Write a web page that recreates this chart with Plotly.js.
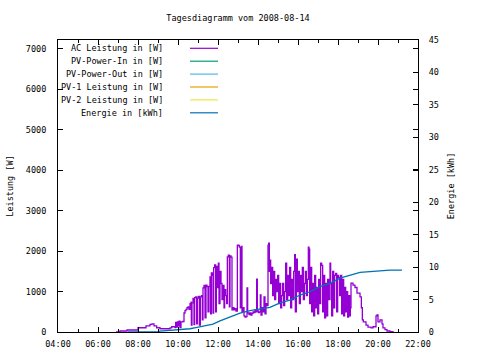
<!DOCTYPE html>
<html>
<head>
<meta charset="utf-8">
<script src="https://cdn.plot.ly/plotly-3.0.1.min.js"></script>
<style>html,body{margin:0;padding:0;background:#fff;}#chart{width:480px;height:360px;}</style>
</head>
<body>
<div id="chart"></div>
<script>
var day = "2008-08-14";
var titleText = "Tagesdiagramm vom 2008-08-14";
var seriesNames = ["AC Leistung in [W]", "PV-Power-In in [W]", "PV-Power-Out in [W]", "PV-1 Leistung in [W]", "PV-2 Leistung in [W]", "Energie in [kWh]"];
var seriesColors = ["#9400d3", "#009e73", "#56b4e9", "#e69f00", "#f0e442", "#0072b2"];

var acTime = ["06:54","07:06","07:27","08:00","08:24","08:36","08:42","08:48","08:56","09:06","09:36","09:41","09:51","09:53","09:55","09:58","10:00","10:03","10:06","10:09","10:14","10:18","10:21","10:24","10:27","10:30","10:33","10:36","10:39","10:40","10:42","10:45","10:48","10:50","10:53","10:56","10:58","11:01","11:04","11:07","11:10","11:13","11:15","11:18","11:21","11:24","11:27","11:30","11:33","11:36","11:38","11:40","11:43","11:45","11:47","11:50","11:53","11:55","11:58","12:01","12:03","12:06","12:09","12:12","12:15","12:18","12:20","12:23","12:26","12:28","12:31","12:34","12:36","12:39","12:42","12:45","12:48","12:51","12:54","12:58","13:01","13:04","13:07","13:10","13:12","13:15","13:18","13:21","13:24","13:27","13:29","13:33","13:36","13:39","13:42","13:45","13:48","13:51","13:54","13:56","13:58","14:01","14:04","14:07","14:09","14:12","14:15","14:18","14:21","14:24","14:27","14:30","14:32","14:34","14:36","14:38","14:41","14:44","14:47","14:50","14:53","14:56","14:59","15:02","15:05","15:08","15:11","15:14","15:17","15:20","15:23","15:26","15:29","15:32","15:35","15:38","15:41","15:44","15:47","15:50","15:52","15:55","15:58","16:01","16:04","16:07","16:10","16:13","16:16","16:19","16:22","16:25","16:28","16:31","16:33","16:35","16:38","16:41","16:44","16:47","16:50","16:53","16:56","16:59","17:02","17:05","17:08","17:11","17:14","17:17","17:20","17:23","17:26","17:29","17:32","17:36","17:38","17:41","17:44","17:47","17:50","17:53","17:56","17:59","18:02","18:05","18:08","18:11","18:14","18:17","18:20","18:23","18:26","18:29","18:32","18:35","18:37","18:39","18:45","18:51","18:57","19:06","19:10","19:13","19:16","19:24","19:30","19:39","19:45","19:54","19:57","20:00","20:06","20:12","20:15","20:21","20:27","20:36","20:45"];
var acPower = [0,25,50,105,150,190,200,150,105,80,100,130,110,240,120,250,150,270,110,250,260,470,530,560,600,620,560,700,740,170,720,830,180,850,870,200,840,880,170,870,900,300,1090,1150,350,1160,1120,500,1130,1360,450,1460,1400,470,1590,1660,500,1620,1100,1700,700,1500,1200,800,1150,600,1050,900,700,1860,1900,620,1880,1850,550,600,550,580,520,2150,2140,2100,600,2120,500,600,400,370,380,1090,470,430,470,420,460,500,480,545,500,1310,520,480,500,920,420,600,500,870,450,700,650,2150,2200,1500,1780,1200,1600,900,1500,800,1300,1000,1400,700,1200,600,900,1200,650,1000,1700,800,1400,900,1600,600,1300,800,1500,1910,500,1800,1000,1500,700,1400,1000,1600,800,1200,1500,900,1300,2100,2050,700,1600,500,1200,400,1400,600,1100,450,1300,700,1700,1650,500,1400,350,1200,400,1300,800,1700,1200,400,1500,600,1400,1450,500,1400,1350,900,1400,450,1300,400,1100,500,1000,370,900,400,600,1210,1160,1100,960,870,600,300,250,170,120,100,130,400,420,250,300,200,100,60,25,10,0];

var enTime = ["07:30","09:00","09:06","10:00","10:36","10:57","11:27","11:45","12:06","12:27","12:45","13:06","13:36","14:06","14:36","15:06","15:36","16:06","16:36","17:06","17:36","18:06","18:36","19:06","19:36","20:06","20:36","21:12"];
var enKWh = [0,0,0.15,0.3,0.5,0.7,1.0,1.2,1.7,2.1,2.5,2.9,3.3,3.5,3.8,4.5,4.9,5.7,6.2,7.0,7.5,8.3,8.7,9.2,9.3,9.45,9.55,9.55];

var xTickLabels = ["04:00","06:00","08:00","10:00","12:00","14:00","16:00","18:00","20:00","22:00"];
var xMinorTicks = ["05:00","07:00","09:00","11:00","13:00","15:00","17:00","19:00","21:00"];
var leftTitle = "Leistung [W]";
var rightTitle = "Energie [kWh]";

function toDate(t){ return day + " " + t; }

var FONT = {family: "DejaVu Sans Mono, monospace", size: 8.5, color: "#000"};

var traces = [
  {x: acTime.map(toDate), y: acPower, type: "scatter", mode: "lines", line: {color: seriesColors[0], width: 1.3, shape: "hv"}, yaxis: "y", showlegend: false, hoverinfo: "skip"},
  {x: enTime.map(toDate), y: enKWh, type: "scatter", mode: "lines", line: {color: seriesColors[5], width: 1.3, shape: "linear"}, yaxis: "y2", showlegend: false, hoverinfo: "skip"}
];

var L = 58, R = 418, T = 40, B = 332;
var W = R - L, H = B - T;
var annotations = [];
var shapes = [];
var rowY0 = 48.3, rowDY = 12.9;
for (var i = 0; i < seriesNames.length; i++) {
  var py = rowY0 + i * rowDY;
  var yp = (B - py) / H;
  annotations.push({xref: "paper", yref: "paper", x: (165 - L) / W, y: yp, xanchor: "right", yanchor: "middle", text: seriesNames[i], showarrow: false, font: FONT});
  shapes.push({type: "line", xref: "paper", yref: "paper", x0: (190 - L) / W, x1: (218 - L) / W, y0: yp, y1: yp, line: {color: seriesColors[i], width: 1.2}});
}

var layout = {
  width: 480, height: 360,
  margin: {l: L, r: 480 - R, t: T, b: 360 - B, pad: 0},
  paper_bgcolor: "#fff", plot_bgcolor: "#fff",
  font: FONT,
  showlegend: false,
  title: {text: titleText, font: FONT, x: 0.5, xref: "paper", xanchor: "center", y: 1 - 18 / 360, yanchor: "middle", yref: "container"},
  xaxis: {
    type: "date",
    range: [toDate("04:00"), toDate("22:00")],
    tickmode: "array",
    tickvals: xTickLabels.map(toDate),
    ticktext: xTickLabels,
    ticks: "inside", ticklen: 5, tickwidth: 1, tickcolor: "#000",
    minor: {tickvals: xMinorTicks.map(toDate), ticks: "inside", ticklen: 3, tickcolor: "#000", showgrid: false},
    showline: true, linecolor: "#000", linewidth: 1, mirror: "ticks",
    showgrid: false, zeroline: false, tickfont: FONT, ticklabelstandoff: 4, fixedrange: true
  },
  yaxis: {
    range: [0, 7222], dtick: 1000, tick0: 0, tickformat: "d",
    ticks: "inside", ticklen: 5, tickwidth: 1, tickcolor: "#000",
    showline: true, linecolor: "#000", linewidth: 1, mirror: "ticks",
    showgrid: false, zeroline: false, tickfont: FONT, ticklabelstandoff: 9,
    title: {text: leftTitle, font: FONT, standoff: 10}
  },
  yaxis2: {
    overlaying: "y", side: "right",
    range: [0, 45], dtick: 5, tick0: 0,
    ticks: "inside", ticklen: 5, tickwidth: 1, tickcolor: "#000",
    showline: true, linecolor: "#000", linewidth: 1,
    showgrid: false, zeroline: false, tickfont: FONT, ticklabelstandoff: 8,
    title: {text: rightTitle, font: FONT, standoff: 10}
  },
  annotations: annotations,
  shapes: shapes
};

Plotly.newPlot("chart", traces, layout, {staticPlot: true, displayModeBar: false});
</script>
</body>
</html>
